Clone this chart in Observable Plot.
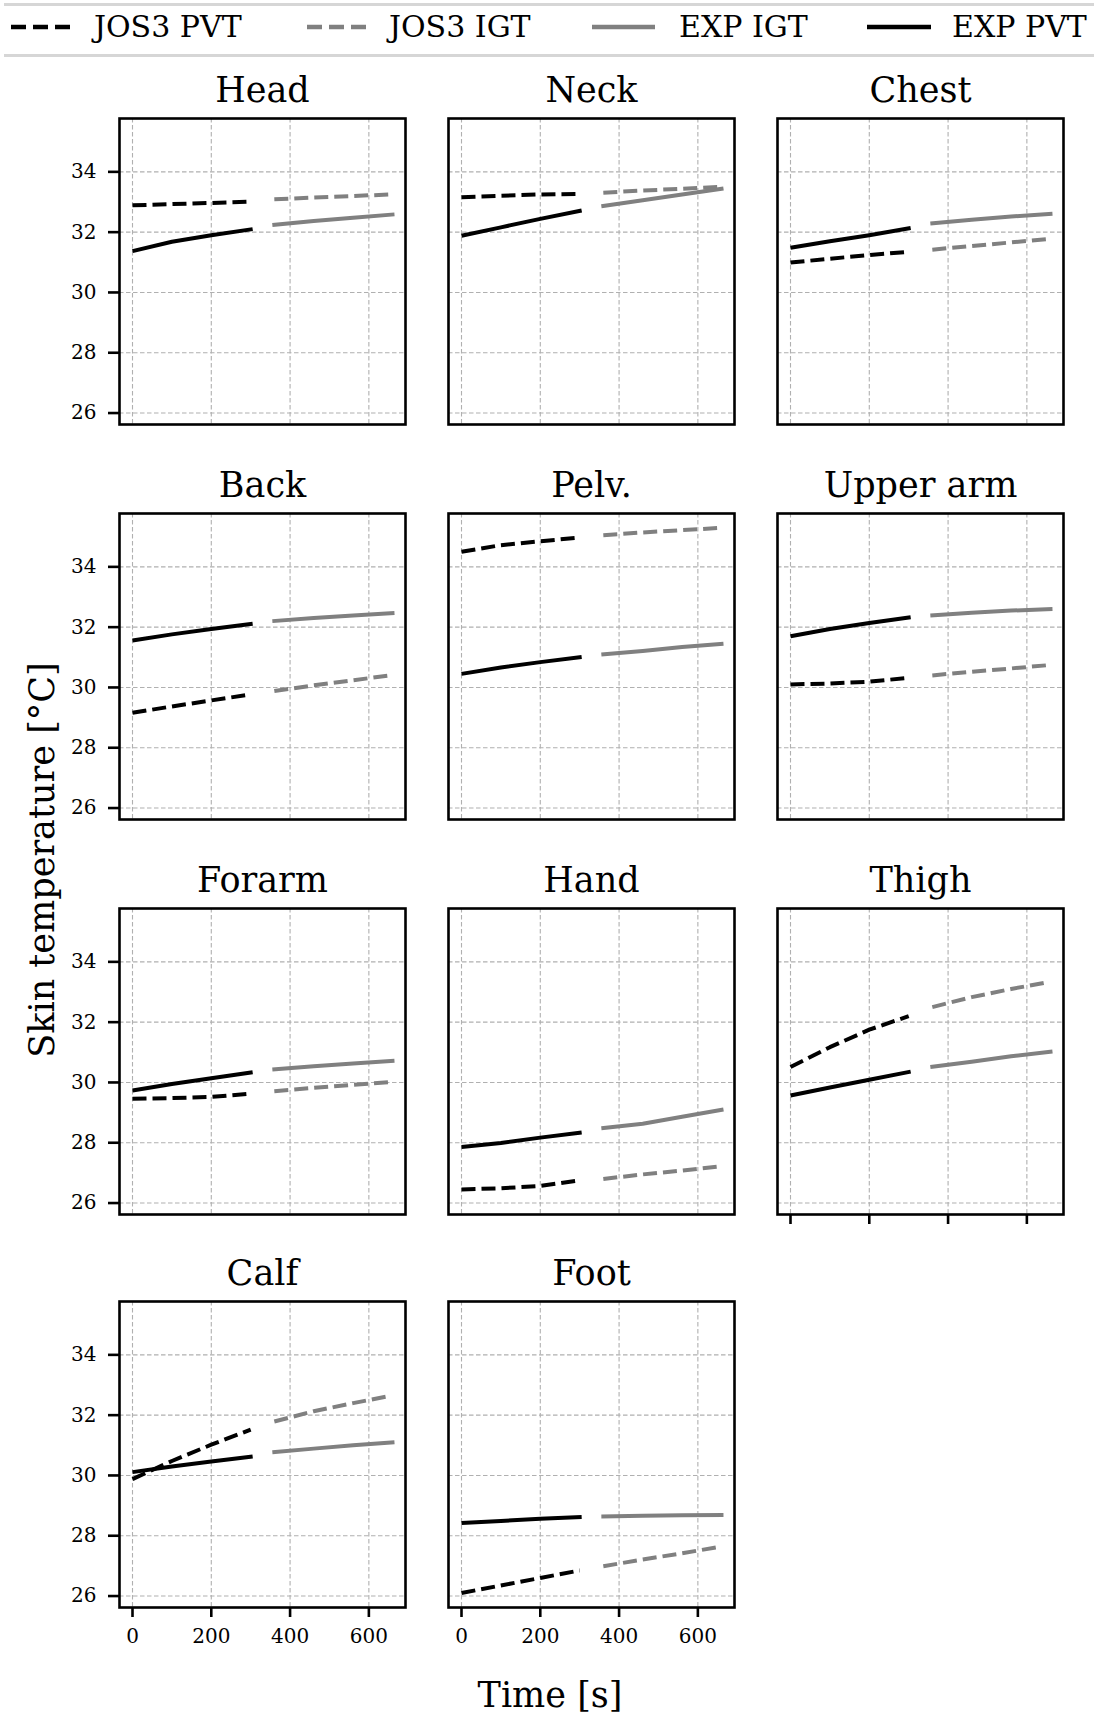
<!DOCTYPE html>
<html><head><meta charset="utf-8">
<script src="https://cdn.jsdelivr.net/npm/d3@7"></script>
<script src="https://cdn.jsdelivr.net/npm/@observablehq/plot@0.6"></script>
<style>
body{margin:0;background:#fff;}
#root{position:relative;width:1098px;height:1715px;font-family:"DejaVu Serif",serif;color:#000;overflow:hidden;background:#fff;}
.panel{position:absolute;}
.panel svg{display:block;max-width:none;}
.panel svg text, .panel svg g{font-family:"DejaVu Serif",serif !important;}
.lab{position:absolute;white-space:nowrap;line-height:1;}
.legline{position:absolute;left:4px;width:1090px;height:3px;background:#d6d6d6;}
</style></head><body><div id="root"></div>
<script>
// ---- data ----
const parts = ["Head","Neck","Chest","Back","Pelv.","Upper arm","Forarm","Hand","Thigh","Calf","Foot"];
const xTicks = [0, 200, 400, 600];
const yTicks = [26, 28, 30, 32, 34];
const tJosPVT = [0, 100, 200, 300];
const tExpPVT = [0, 100, 200, 305];
const tJosIGT = [360, 460, 560, 655];
const tExpIGT = [355, 460, 560, 665];

const josPVT = [
  [32.89, 32.93, 32.97, 33.01],
  [33.16, 33.21, 33.25, 33.27],
  [30.99, 31.12, 31.24, 31.35],
  [29.16, 29.37, 29.57, 29.77],
  [34.50, 34.72, 34.85, 34.97],
  [30.10, 30.13, 30.19, 30.32],
  [29.46, 29.48, 29.52, 29.63],
  [26.45, 26.49, 26.57, 26.75],
  [30.51, 31.17, 31.75, 32.20],
  [29.88, 30.48, 31.02, 31.52],
  [26.10, 26.35, 26.60, 26.85]
];
const expPVT = [
  [31.37, 31.68, 31.90, 32.10],
  [31.88, 32.16, 32.44, 32.72],
  [31.48, 31.70, 31.90, 32.14],
  [31.56, 31.76, 31.94, 32.11],
  [30.45, 30.66, 30.84, 31.01],
  [31.70, 31.94, 32.14, 32.33],
  [29.73, 29.95, 30.14, 30.34],
  [27.86, 27.99, 28.17, 28.34],
  [29.57, 29.83, 30.09, 30.36],
  [30.11, 30.30, 30.46, 30.63],
  [28.42, 28.49, 28.56, 28.62]
];
const josIGT = [
  [33.09, 33.15, 33.20, 33.25],
  [33.31, 33.38, 33.44, 33.50],
  [31.42, 31.54, 31.66, 31.77],
  [29.88, 30.07, 30.24, 30.40],
  [35.05, 35.14, 35.22, 35.29],
  [30.40, 30.52, 30.63, 30.74],
  [29.71, 29.82, 29.92, 30.01],
  [26.80, 26.95, 27.08, 27.21],
  [32.50, 32.83, 33.10, 33.33],
  [31.79, 32.13, 32.40, 32.64],
  [26.99, 27.21, 27.42, 27.63]
];
const expIGT = [
  [32.24, 32.37, 32.48, 32.59],
  [32.86, 33.06, 33.25, 33.45],
  [32.29, 32.41, 32.52, 32.61],
  [32.20, 32.30, 32.39, 32.47],
  [31.09, 31.21, 31.34, 31.45],
  [32.39, 32.48, 32.55, 32.60],
  [30.43, 30.54, 30.63, 30.72],
  [28.48, 28.63, 28.86, 29.10],
  [30.51, 30.69, 30.87, 31.03],
  [30.77, 30.89, 31.00, 31.10],
  [28.64, 28.66, 28.68, 28.69]
];
const seriesNames = ["JOS3 PVT", "JOS3 IGT", "EXP IGT", "EXP PVT"];
const seriesColors = ["#000000", "#808080", "#808080", "#000000"];
const seriesDash = ["14,6", "14,6", null, null];

// ---- layout ----
const root = document.getElementById("root");
const colLeft = [119, 448, 777];
const rowTop = [118, 513, 908, 1301];
const FW = 286, FH = 306;
const ML = 110, MR = 12, MT = 70, MB = 60;
const FONT = "DejaVu Serif";

function panel(i) {
  const col = i % 3, row = Math.floor(i / 3);
  const series = [
    {t: tJosPVT, v: josPVT[i], k: 0},
    {t: tJosIGT, v: josIGT[i], k: 1},
    {t: tExpIGT, v: expIGT[i], k: 2},
    {t: tExpPVT, v: expPVT[i], k: 3}
  ];
  const gridOpts = {stroke: "#b0b0b0", strokeOpacity: 1, strokeWidth: 1.1, strokeDasharray: "4.5,2.5"};
  const marks = [
    Plot.gridX({ticks: xTicks, ...gridOpts}),
    Plot.gridY({ticks: yTicks, ...gridOpts})
  ];
  for (const s of series) {
    const rows = s.t.map((t, j) => ({t, v: s.v[j]}));
    marks.push(Plot.line(rows, {
      x: "t", y: "v",
      stroke: seriesColors[s.k], strokeWidth: 4,
      strokeDasharray: seriesDash[s.k] ?? undefined,
      strokeLinecap: "butt"
    }));
  }
  marks.push(Plot.frame({stroke: "#000", strokeWidth: 2.6}));
  marks.push(Plot.text([parts[i]], {text: d => d, frameAnchor: "top", dy: -17, lineAnchor: "bottom", fontSize: 35, fontFamily: FONT, fill: "#000"}));
  const isBottom = i >= 9;
  if (col === 0) marks.push(Plot.axisY({ticks: yTicks, tickSize: 11, tickPadding: 12, fontSize: 20, fontFamily: FONT, strokeWidth: 2.6, label: null}));
  if (isBottom) marks.push(Plot.axisX({ticks: xTicks, tickSize: 10, tickPadding: 11, fontSize: 20, fontFamily: FONT, strokeWidth: 2.6, label: null}));
  if (i === 8) marks.push(Plot.axisX({ticks: xTicks, tickSize: 10, tickFormat: () => "", strokeWidth: 2.6, label: null}));

  const svg = Plot.plot({
    width: ML + FW + MR,
    height: MT + FH + MB,
    marginLeft: ML, marginRight: MR, marginTop: MT, marginBottom: MB,
    x: {domain: [-33, 693], axis: null},
    y: {domain: [25.62, 35.77], axis: null},
    style: {background: "transparent", fontFamily: FONT, fontSize: "20px", color: "#000", overflow: "visible"},
    marks
  });
  const div = document.createElement("div");
  div.className = "panel";
  div.style.left = (colLeft[col] - ML) + "px";
  div.style.top = (rowTop[row] - MT) + "px";
  div.appendChild(svg);
  root.appendChild(div);
}
parts.forEach((p, i) => panel(i));

// ---- legend (above the panels) ----
const l1 = document.createElement("div"); l1.className = "legline"; l1.style.top = "3px"; root.appendChild(l1);
const l2 = document.createElement("div"); l2.className = "legline"; l2.style.top = "54px"; root.appendChild(l2);
const legSample = [[11, 71], [307, 366], [592, 655], [867, 931]];
const legText = [94, 389, 679, 952];
seriesNames.forEach((name, k) => {
  const [x0, x1] = legSample[k];
  const s = d3.select(root).append("svg")
    .style("position", "absolute").style("left", x0 + "px").style("top", "22px")
    .attr("width", x1 - x0).attr("height", 10);
  s.append("line").attr("x1", 0).attr("x2", x1 - x0).attr("y1", 5).attr("y2", 5)
    .attr("stroke", seriesColors[k]).attr("stroke-width", 4.5)
    .attr("stroke-dasharray", seriesDash[k] ? "15,7" : null);
  const t = document.createElement("div");
  t.className = "lab";
  t.textContent = name;
  t.style.left = legText[k] + "px";
  t.style.top = "27px";
  t.style.fontSize = "30px";
  t.style.transform = "translateY(-50%)";
  root.appendChild(t);
});

// ---- axis titles ----
const yl = document.createElement("div");
yl.className = "lab"; yl.textContent = "Skin temperature [°C]";
yl.style.left = "42px"; yl.style.top = "860px"; yl.style.fontSize = "35px";
yl.style.transform = "translate(-50%,-50%) rotate(-90deg)";
root.appendChild(yl);
const xl = document.createElement("div");
xl.className = "lab"; xl.textContent = "Time [s]";
xl.style.left = "550px"; xl.style.top = "1695px"; xl.style.fontSize = "35px";
xl.style.transform = "translate(-50%,-50%)";
root.appendChild(xl);
</script>
</body></html>
